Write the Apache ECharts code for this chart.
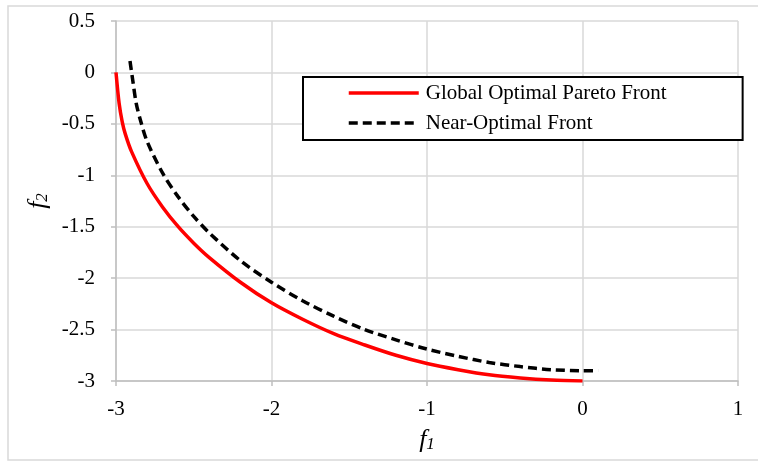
<!DOCTYPE html>
<html>
<head>
<meta charset="utf-8">
<script src="https://cdn.jsdelivr.net/npm/echarts@6/dist/echarts.min.js"></script>
<style>
  html, body { margin: 0; padding: 0; background: #fff; }
  #chart { width: 758px; height: 462px; }
</style>
</head>
<body>
<div id="chart"></div>
<script>
// Objective-space fronts (f1, f2)
const globalF1 = [-3.0, -2.98, -2.96, -2.94, -2.9, -2.8, -2.7, -2.6, -2.5, -2.4, -2.2, -2.0, -1.8, -1.6, -1.4, -1.2, -1.0, -0.8, -0.6, -0.4, -0.2, 0.0];
const globalF2 = [0.0, -0.3, -0.48, -0.6, -0.77, -1.08, -1.31, -1.5, -1.66, -1.8, -2.04, -2.24, -2.4, -2.54, -2.65, -2.75, -2.83, -2.89, -2.94, -2.97, -2.99, -3.0];

const nearF1 = [-2.91, -2.89, -2.87, -2.84, -2.8, -2.7, -2.6, -2.5, -2.4, -2.2, -2.0, -1.8, -1.6, -1.4, -1.2, -1.0, -0.8, -0.6, -0.4, -0.2, 0.0, 0.1];
const nearF2 = [0.11, -0.1, -0.3, -0.48, -0.67, -0.98, -1.21, -1.4, -1.56, -1.83, -2.04, -2.22, -2.37, -2.5, -2.6, -2.69, -2.76, -2.82, -2.86, -2.89, -2.9, -2.9];

const seriesNames = ['Global Optimal Pareto Front', 'Near-Optimal Front'];

const xTicks = { min: -3, max: 1, step: 1 };
const yTicks = { min: -3, max: 0.5, step: 0.5 };

const pairs = (xs, ys) => xs.map((x, i) => [x, ys[i]]);

const FONT = 'Liberation Serif';
const gridGray = '#d9d9d9';
const axisGray = '#bfbfbf';

const chart = echarts.init(document.getElementById('chart'), null, { renderer: 'canvas' });

// italic "f" with an italic subscript index
const nameStyle = {
  fontFamily: FONT,
  fontSize: 26,
  fontStyle: 'italic',
  color: '#000',
  rich: {
    f: { fontFamily: FONT, fontStyle: 'italic', fontSize: 26, color: '#000', verticalAlign: 'bottom' },
    s: { fontFamily: FONT, fontStyle: 'italic', fontSize: 17, color: '#000', verticalAlign: 'bottom' }
  }
};

chart.setOption({
  animation: false,
  backgroundColor: '#fff',
  textStyle: { fontFamily: FONT },
  graphic: [{
    type: 'rect',
    shape: { x: 8, y: 6, width: 780, height: 454 },
    style: { fill: 'none', stroke: gridGray, lineWidth: 1.5 },
    silent: true,
    z: -1
  }],
  grid: { left: 116, right: 20, top: 21, bottom: 81 },
  legend: {
    left: 303,
    top: 77,
    orient: 'vertical',
    align: 'left',
    backgroundColor: '#fff',
    borderColor: '#000',
    borderWidth: 2,
    borderRadius: 0,
    padding: [3, 76, 4, 44],
    itemGap: 4,
    itemWidth: 70,
    itemHeight: 14,
    itemStyle: { opacity: 0 },
    lineStyle: { width: 3.5 },
    textStyle: { fontFamily: FONT, fontSize: 21, color: '#000', lineHeight: 26, padding: [0, 0, 0, 2] },
    data: seriesNames
  },
  xAxis: {
    type: 'value',
    min: xTicks.min,
    max: xTicks.max,
    interval: xTicks.step,
    name: '{f|f}{s|1}',
    nameLocation: 'middle',
    nameGap: 46,
    nameTextStyle: nameStyle,
    axisLine: { show: true, onZero: false, lineStyle: { color: axisGray, width: 1.5 } },
    axisTick: { show: true, length: 5, lineStyle: { color: axisGray, width: 1.5 } },
    axisLabel: { fontFamily: FONT, fontSize: 21, color: '#000', margin: 18 },
    splitLine: { show: true, lineStyle: { color: gridGray, width: 1.5 } }
  },
  yAxis: {
    type: 'value',
    min: yTicks.min,
    max: yTicks.max,
    interval: yTicks.step,
    name: '{f|f}{s|2}',
    nameLocation: 'middle',
    nameGap: 62,
    nameRotate: 90,
    nameTextStyle: nameStyle,
    axisLine: { show: true, onZero: false, lineStyle: { color: axisGray, width: 1.5 } },
    axisTick: { show: true, length: 5, lineStyle: { color: axisGray, width: 1.5 } },
    axisLabel: { fontFamily: FONT, fontSize: 21, color: '#000', margin: 21 },
    splitLine: { show: true, lineStyle: { color: gridGray, width: 1.5 } }
  },
  series: [
    {
      name: seriesNames[0],
      type: 'line',
      data: pairs(globalF1, globalF2),
      smooth: 0.3,
      showSymbol: false,
      symbol: 'none',
      lineStyle: { color: '#ff0000', width: 3.5 },
      itemStyle: { color: '#ff0000' },
      z: 3
    },
    {
      name: seriesNames[1],
      type: 'line',
      data: pairs(nearF1, nearF2),
      smooth: 0.3,
      showSymbol: false,
      symbol: 'none',
      lineStyle: { color: '#000', width: 3.5, type: [9, 5] },
      itemStyle: { color: '#000' },
      z: 3
    }
  ]
});
</script>
</body>
</html>
